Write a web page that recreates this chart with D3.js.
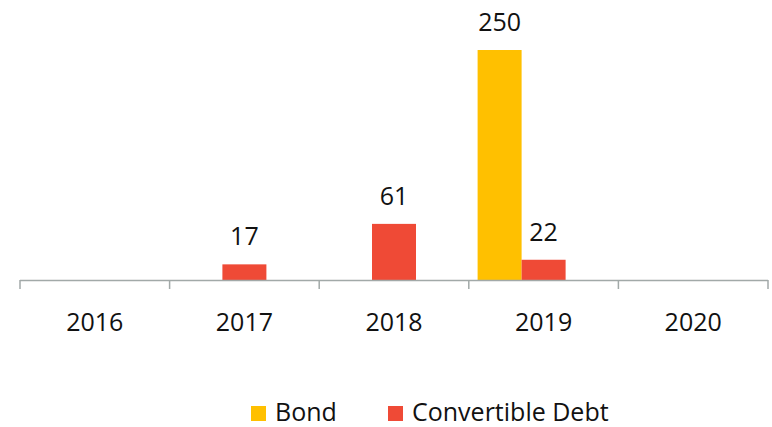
<!DOCTYPE html>
<html>
<head>
<meta charset="utf-8">
<script src="https://cdn.jsdelivr.net/npm/d3@7"></script>
<style>
  html, body { margin: 0; padding: 0; background: #ffffff; }
  svg { display: block; }
  text { font-family: "Open Sans", "Noto Sans", sans-serif; fill: #111; }
</style>
</head>
<body>
<svg id="chart" width="772" height="427"></svg>
<script>
const years = ["2016", "2017", "2018", "2019", "2020"];
const seriesNames = ["Bond", "Convertible Debt"];
const bondValues = [0, 0, 0, 250, 0];
const convertibleValues = [0, 17, 61, 22, 0];
const seriesColors = ["#FFC000", "#EF4A36"];

const seriesValues = [bondValues, convertibleValues];

const svg = d3.select("#chart");
const plot = { left: 20, right: 768, top: 4, bottom: 280 };

const x0 = d3.scaleBand().domain(years).range([plot.left, plot.right]).padding(0);
// three slots per category (third slot is empty), as in the reference layout
const x1 = d3.scaleBand().domain([...seriesNames, "_empty"]).range([0, x0.bandwidth()])
  .paddingInner(0).paddingOuter(0.2);
const y = d3.scaleLinear().domain([0, 300]).range([plot.bottom, plot.top]);
const color = d3.scaleOrdinal().domain(seriesNames).range(seriesColors);

const rows = [];
years.forEach((yr, i) => {
  seriesNames.forEach((s, j) => {
    rows.push({ year: yr, series: s, value: seriesValues[j][i] });
  });
});

// bars
const g = svg.append("g");
g.selectAll("rect.bar")
  .data(rows.filter(d => d.value > 0))
  .join("rect")
  .attr("class", "bar")
  .attr("x", d => x0(d.year) + x1(d.series))
  .attr("y", d => y(d.value))
  .attr("width", x1.bandwidth())
  .attr("height", d => y(0) - y(d.value))
  .attr("fill", d => color(d.series));

// value labels
g.selectAll("text.val")
  .data(rows.filter(d => d.value > 0))
  .join("text")
  .attr("class", "val")
  .attr("x", d => x0(d.year) + x1(d.series) + x1.bandwidth() / 2)
  .attr("y", d => y(d.value) - 19)
  .attr("text-anchor", "middle")
  .style("font-size", "25px")
  .text(d => d.value);

// x axis
const axisColor = "#A2A9A8";
const axisG = svg.append("g").attr("transform", `translate(0,${plot.bottom})`);
axisG.call(d3.axisBottom(x0).tickSize(0).tickPadding(0));
axisG.select(".domain").remove();
axisG.selectAll(".tick text")
  .attr("y", 51)
  .attr("dy", 0)
  .style("font-size", "25px")
  .style("font-family", "'Open Sans', 'Noto Sans', sans-serif")
  .attr("fill", "#111");

axisG.append("line")
  .attr("x1", plot.left).attr("x2", plot.right)
  .attr("y1", 0.5).attr("y2", 0.5)
  .attr("stroke", axisColor).attr("stroke-width", 1.5);
const boundaries = years.map(yr => x0(yr)).concat([x0.range()[1]]);
axisG.selectAll("line.bt")
  .data(boundaries)
  .join("line")
  .attr("class", "bt")
  .attr("x1", d => d).attr("x2", d => d)
  .attr("y1", 0).attr("y2", 9)
  .attr("stroke", axisColor).attr("stroke-width", 1.5);

// legend
const legendItems = [
  { name: seriesNames[0], x: 251 },
  { name: seriesNames[1], x: 388 }
];
const lg = svg.append("g");
const li = lg.selectAll("g").data(legendItems).join("g")
  .attr("transform", d => `translate(${d.x},406)`);
li.append("rect").attr("width", 15).attr("height", 15).attr("fill", d => color(d.name));
li.append("text").attr("x", 24).attr("y", 15).style("font-size", "25px").text(d => d.name);
</script>
</body>
</html>
